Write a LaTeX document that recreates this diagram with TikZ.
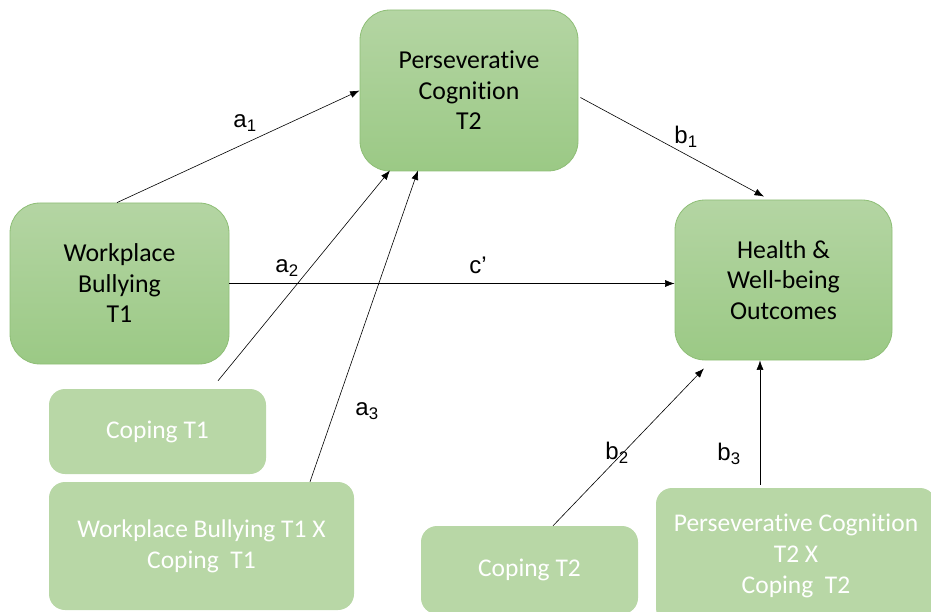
\documentclass[tikz,border=0pt]{standalone}
\usepackage{fontspec}
\setmainfont[Ligatures=NoCommon]{Carlito}
\newfontfamily\labelfont{Liberation Sans}
\usetikzlibrary{arrows.meta,calc}

\definecolor{boxtop}{HTML}{B4D5A3}
\definecolor{boxbottom}{HTML}{9BC985}
\definecolor{boxline}{HTML}{8EBE76}
\definecolor{modfill}{HTML}{B8D7A6}

\tikzset{
  construct/.style={rectangle, rounded corners=30pt, draw=boxline, line width=0.8pt,
    top color=boxtop, bottom color=boxbottom, text=black, align=center,
    inner sep=0pt, font=\fontsize{25.8}{30.5}\selectfont},
  moderator/.style={rectangle, rounded corners=16pt, fill=modfill, draw=none,
    text=white, align=center, inner sep=0pt, font=\fontsize{25.5}{31}\selectfont},
  path/.style={draw=black, line width=0.6pt, -{Latex[length=9.5pt,width=7pt]}},
  coef/.style={font=\labelfont\fontsize{24}{28}\selectfont, inner sep=0pt}
}

\begin{document}
\begin{tikzpicture}[x=1pt,y=-1pt]
\useasboundingbox (0,0) rectangle (931,612);

% main constructs
\node[construct, minimum width=218pt, minimum height=161pt] (pc) at (469,90.5)
  {Perseverative\\Cognition\\T2};
\node[construct, minimum width=219pt, minimum height=161pt] (wb) at (119.5,283.5)
  {Workplace\\Bullying\\T1};
\node[construct, minimum width=217pt, minimum height=160pt] (ho) at (783.5,280)
  {Health \&\\Well-being\\Outcomes};

% moderators and interaction terms
\node[moderator, minimum width=217pt, minimum height=85pt] (c1) at (157.5,431.5)
  {Coping T1};
\node[moderator, minimum width=305pt, minimum height=128pt] (wbc) at (201.5,546)
  {Workplace Bullying T1 X\\Coping\ \ T1};
\node[moderator, minimum width=217pt, minimum height=88pt] (c2) at (529.5,570)
  {Coping T2};
\node[moderator, minimum width=280pt, minimum height=136pt] (pcc) at (796,556)
  {Perseverative Cognition\\T2 X\\Coping\ \ T2};

% anchor points for the vertical b3 path
\coordinate (b3start) at ($(pcc.north)+(-36,-3)$);
\coordinate (b3end) at (b3start |- ho.south);

% structural paths
\draw[path] ($(wb.north)+(-2.5,0)$) -- (pc.west);
\draw[path] ($(pc.east)+(2,7)$) -- ($(ho.north)+(-19.5,-3)$);
\draw[path] (wb.east) -- (wb.east -| ho.west);
\draw[path] ($(c1.north)+(60.5,-8)$) -- ($(pc.south)+(-79,-1)$);
\draw[path] ($(wbc.north)+(108.5,0)$) -- ($(pc.south)+(-51,-1)$);
\draw[path] ($(c2.north)+(23.5,0)$) -- ($(ho.south)+(-79.5,8)$);
\draw[path] (b3start) -- (b3end);

% path coefficients
\node[coef] (la1) at (245,123) {a\textsubscript{1}};
\node[coef] (la2) at (287,268) {a\textsubscript{2}};
\node[coef] (la3) at (367,411) {a\textsubscript{3}};
\node[coef] (lc)  at (478,265) {c’};
\node[coef] (lb1) at (686,137) {b\textsubscript{1}};
\node[coef] (lb2) at (617,453) {b\textsubscript{2}};
\node[coef] (lb3) at (729,454) {b\textsubscript{3}};
\end{tikzpicture}
\end{document}
